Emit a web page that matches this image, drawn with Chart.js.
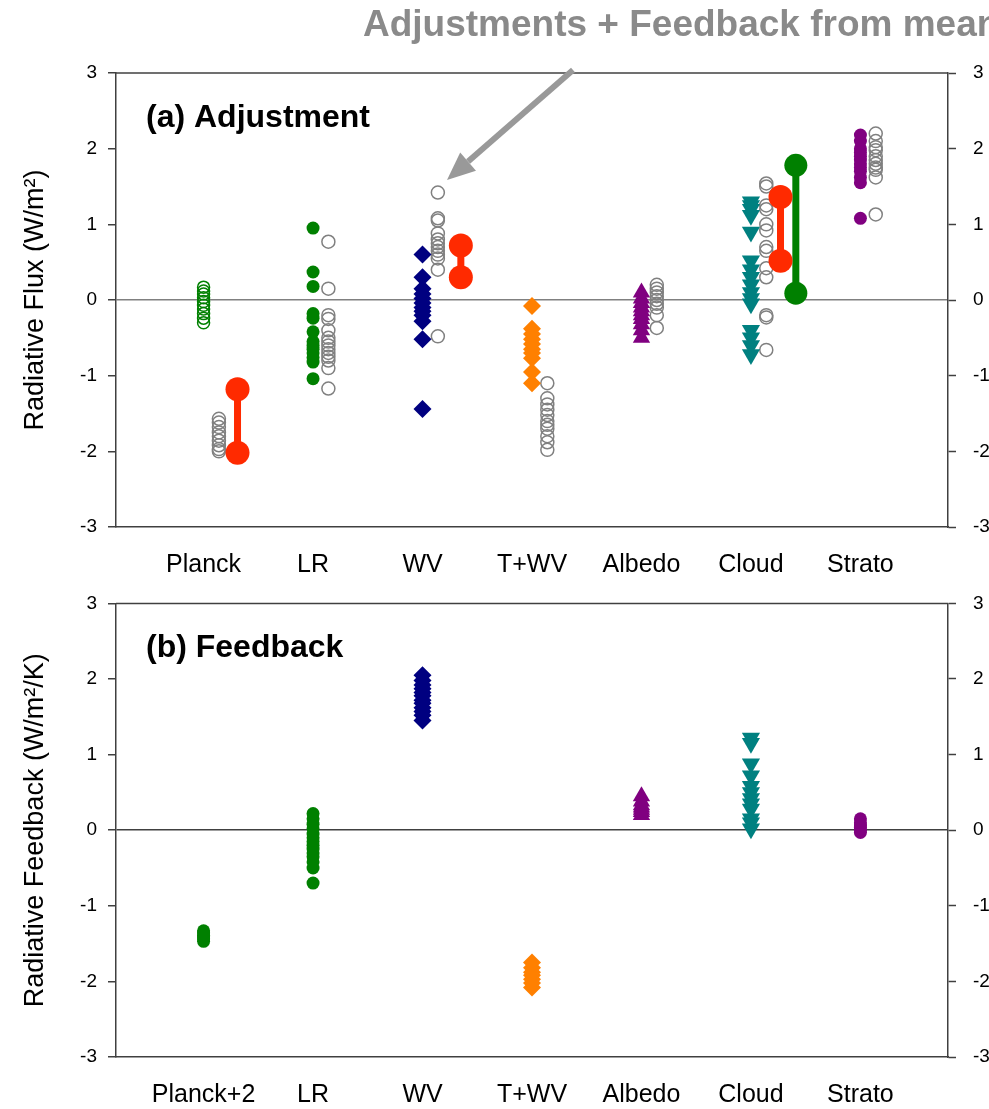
<!DOCTYPE html>
<html>
<head>
<meta charset="utf-8">
<script src="https://cdn.jsdelivr.net/npm/chart.js@4.4.0/dist/chart.umd.min.js"></script>
<style>
  body { margin: 0; background: #fff; }
  #chartA { position: absolute; left: 0; top: 0; }
  #chartB { position: absolute; left: 0; top: 575px; }
</style>
</head>
<body>
<canvas id="chartA" width="989" height="585"></canvas>
<canvas id="chartB" width="989" height="534"></canvas>
<script>
// categories on the x axis
let catsA = ["Planck", "LR", "WV", "T+WV", "Albedo", "Cloud", "Strato"];
let catsB = ["Planck+2", "LR", "WV", "T+WV", "Albedo", "Cloud", "Strato"];
let yTicks = [-3, -2, -1, 0, 1, 2, 3];

// (a) adjustments of each model
let adjPlanck = [0.17, 0.12, 0.08, 0.03, -0.02, -0.07, -0.12, -0.18, -0.24, -0.3];
let adjLR = [0.95, 0.37, 0.18, -0.18, -0.24, -0.42, -0.55, -0.6, -0.65, -0.7, -0.76, -0.82, -1.04];
let adjWV = [0.6, 0.3, 0.15, 0.08, 0.02, -0.04, -0.1, -0.15, -0.2, -0.28, -0.52, -1.44];
let adjTWV = [-0.08, -0.38, -0.45, -0.52, -0.58, -0.65, -0.7, -0.77, -0.95, -1.1];
let adjAlbedo = [0.1, 0.02, -0.04, -0.1, -0.15, -0.2, -0.25, -0.32, -0.4, -0.5];
let adjCloud = [1.3, 1.25, 1.2, 1.12, 0.9, 0.52, 0.4, 0.3, 0.2, 0.1, 0.02, -0.05, -0.4, -0.5, -0.6, -0.72];
let adjStrato = [2.18, 2.1, 2.0, 1.95, 1.9, 1.85, 1.8, 1.75, 1.7, 1.62, 1.55, 1.08];

// (a) grey open circles: adjustments + feedback from mean
let meanPlanck = [-1.57, -1.62, -1.68, -1.75, -1.8, -1.86, -1.92, -1.97, -2.0];
let meanLR = [0.77, 0.15, -0.2, -0.25, -0.4, -0.5, -0.55, -0.6, -0.65, -0.7, -0.75, -0.8, -0.9, -1.17];
let meanWV = [1.42, 1.08, 1.05, 0.88, 0.8, 0.75, 0.7, 0.65, 0.6, 0.55, 0.4, -0.48];
let meanTWV = [-1.1, -1.3, -1.38, -1.45, -1.52, -1.6, -1.65, -1.7, -1.8, -1.88, -1.98];
let meanAlbedo = [0.2, 0.15, 0.1, 0.05, 0.0, -0.05, -0.1, -0.2, -0.37];
let meanCloud = [1.54, 1.5, 1.25, 1.2, 1.0, 0.92, 0.7, 0.65, 0.42, 0.3, -0.2, -0.23, -0.66];
let meanStrato = [2.2, 2.1, 2.02, 1.98, 1.9, 1.85, 1.8, 1.75, 1.72, 1.62, 1.13];

// (a) red and green ranges (top, bottom)
let redPlanck = [-1.18, -2.02];
let redWV = [0.72, 0.3];
let redCloud = [1.36, 0.52];
let greenCloud = [1.78, 0.09];

// (b) feedbacks
let fbPlanck = [-1.33, -1.36, -1.39, -1.41, -1.44, -1.47];
let fbLR = [0.22, 0.15, 0.08, 0.02, -0.05, -0.1, -0.15, -0.2, -0.25, -0.3, -0.35, -0.42, -0.5, -0.7];
let fbWV = [2.05, 1.98, 1.92, 1.87, 1.82, 1.78, 1.72, 1.68, 1.62, 1.57, 1.52, 1.45];
let fbTWV = [-1.75, -1.82, -1.88, -1.92, -1.97, -2.02, -2.08];
let fbAlbedo = [0.45, 0.38, 0.33, 0.3, 0.27, 0.24, 0.2];
let fbCloud = [1.22, 1.15, 0.88, 0.72, 0.58, 0.5, 0.42, 0.35, 0.28, 0.15, 0.1, 0.02];
let fbStrato = [0.15, 0.1, 0.07, 0.04, 0.0, -0.03];

Chart.defaults.font.family = "'Liberation Sans', Arial, sans-serif";
Chart.defaults.color = '#000';

const GREEN = '#008000', GREY = '#808080', NAVY = '#000080', ORANGE = '#ff8000';
const PURPLE = '#800080', TEAL = '#008080', RED = '#ff2a00';

// turn a list of values into points at category i (+ a small shift)
function pts(i, arr, shift) {
  return arr.map(v => ({ x: i + (shift || 0), y: v }));
}

function filled(data, color, style, r, rot) {
  return {
    data: data, pointStyle: style, pointRadius: r, pointRotation: rot || 0,
    backgroundColor: color, borderColor: color, borderWidth: 0, order: 1
  };
}

function open(data, color, r) {
  return {
    data: data, pointStyle: 'circle', pointRadius: r,
    backgroundColor: 'rgba(255,255,255,0)', borderColor: color, borderWidth: 1.5, order: 2
  };
}

function range(i, shift, arr, color, r) {
  return {
    type: 'line', showLine: true, data: pts(i, arr, shift),
    borderColor: color, backgroundColor: color, borderWidth: 7,
    pointRadius: r, pointBorderWidth: 0, order: 0
  };
}

// axes shared by both panels
function makeScales(cats, xHeight, yTitle, zeroColor) {
  return {
    x: {
      type: 'linear', min: 0.2, max: 7.8,
      afterFit: s => { s.height = xHeight; },
      afterBuildTicks: s => { s.ticks = cats.map((c, k) => ({ value: k + 1 })); },
      ticks: {
        callback: v => cats[v - 1], font: { size: 25 }, padding: 23, maxRotation: 0, autoSkip: false
      },
      grid: { display: false, drawTicks: false },
      border: { color: '#404040', width: 1.5 }
    },
    y: {
      position: 'left', min: -3, max: 3,
      afterFit: s => { s.width = 116; },
      afterBuildTicks: s => { s.ticks = yTicks.map(v => ({ value: v })); },
      ticks: { font: { size: 19 }, padding: 11 },
      grid: {
        color: c => (c.tick && c.tick.value === 0) ? zeroColor : 'rgba(0,0,0,0)',
        lineWidth: 1.5, tickColor: '#404040', tickLength: 8, tickWidth: 1.5
      },
      border: { color: '#404040', width: 1.5 },
      title: { display: true, text: yTitle, font: { size: 27 }, padding: { top: 19, bottom: 0 } }
    },
    y2: {
      position: 'right', min: -3, max: 3,
      afterFit: s => { s.width = 41; },
      afterBuildTicks: s => { s.ticks = yTicks.map(v => ({ value: v })); },
      ticks: { font: { size: 19 }, padding: 17 },
      grid: { drawOnChartArea: false, tickColor: '#404040', tickLength: 8, tickWidth: 1.5 },
      border: { color: '#404040', width: 1.5 }
    }
  };
}

// top frame line + panel label (+ headline and arrow for panel a)
function decor(label, extra) {
  return {
    id: 'decor',
    afterDraw(chart) {
      const ctx = chart.ctx, a = chart.chartArea;
      ctx.save();
      ctx.strokeStyle = '#404040';
      ctx.lineWidth = 1.5;
      ctx.beginPath();
      ctx.moveTo(a.left, a.top);
      ctx.lineTo(a.right, a.top);
      ctx.stroke();
      ctx.fillStyle = '#000';
      ctx.font = "bold 32px 'Liberation Sans', Arial, sans-serif";
      ctx.textBaseline = 'middle';
      ctx.fillText(label, 146, a.top + 45);
      if (extra) extra(ctx);
      ctx.restore();
    }
  };
}

function headline(ctx) {
  ctx.fillStyle = '#8a8a8a';
  ctx.font = "bold 37px 'Liberation Sans', Arial, sans-serif";
  ctx.textBaseline = 'middle';
  ctx.fillText('Adjustments + Feedback from mean', 363, 26);
  // arrow pointing to the grey circles
  const x0 = 573, y0 = 70, x1 = 447, y1 = 180;
  const len = Math.hypot(x1 - x0, y1 - y0);
  const ux = (x1 - x0) / len, uy = (y1 - y0) / len;
  const head = 28, half = 12;
  const bx = x1 - ux * head, by = y1 - uy * head;
  ctx.strokeStyle = '#999';
  ctx.fillStyle = '#999';
  ctx.lineWidth = 6;
  ctx.beginPath();
  ctx.moveTo(x0, y0);
  ctx.lineTo(bx, by);
  ctx.stroke();
  ctx.beginPath();
  ctx.moveTo(x1, y1);
  ctx.lineTo(bx - uy * half, by + ux * half);
  ctx.lineTo(bx + uy * half, by - ux * half);
  ctx.closePath();
  ctx.fill();
}

const G = 0.14; // shift of grey circles

let chartA = new Chart(document.getElementById('chartA').getContext('2d'), {
  type: 'scatter',
  data: {
    datasets: [
      open(pts(1, adjPlanck), GREEN, 6),
      filled(pts(2, adjLR), GREEN, 'circle', 6.5),
      filled(pts(3, adjWV), NAVY, 'rectRot', 9),
      filled(pts(4, adjTWV), ORANGE, 'rectRot', 9),
      filled(pts(5, adjAlbedo), PURPLE, 'triangle', 10),
      filled(pts(6, adjCloud), TEAL, 'triangle', 10.5, 180),
      filled(pts(7, adjStrato), PURPLE, 'circle', 6.5),
      open(pts(1, meanPlanck, G), GREY, 6.5),
      open(pts(2, meanLR, G), GREY, 6.5),
      open(pts(3, meanWV, G), GREY, 6.5),
      open(pts(4, meanTWV, G), GREY, 6.5),
      open(pts(5, meanAlbedo, G), GREY, 6.5),
      open(pts(6, meanCloud, G), GREY, 6.5),
      open(pts(7, meanStrato, G), GREY, 6.5),
      range(1, 0.31, redPlanck, RED, 12),
      range(3, 0.35, redWV, RED, 12),
      range(6, 0.27, redCloud, RED, 12),
      range(6, 0.41, greenCloud, GREEN, 11.5)
    ]
  },
  options: {
    responsive: false,
    animation: false,
    layout: { padding: { top: 73, left: 0, right: 0, bottom: 0 } },
    plugins: { legend: { display: false }, tooltip: { enabled: false } },
    scales: makeScales(catsA, 58, 'Radiative Flux (W/m²)', '#808080')
  },
  plugins: [decor('(a) Adjustment', headline)]
});

let chartB = new Chart(document.getElementById('chartB').getContext('2d'), {
  type: 'scatter',
  data: {
    datasets: [
      filled(pts(1, fbPlanck), GREEN, 'circle', 6.5),
      filled(pts(2, fbLR), GREEN, 'circle', 6.5),
      filled(pts(3, fbWV), NAVY, 'rectRot', 9),
      filled(pts(4, fbTWV), ORANGE, 'rectRot', 9),
      filled(pts(5, fbAlbedo), PURPLE, 'triangle', 10),
      filled(pts(6, fbCloud), TEAL, 'triangle', 10.5, 180),
      filled(pts(7, fbStrato), PURPLE, 'circle', 6.5)
    ]
  },
  options: {
    responsive: false,
    animation: false,
    layout: { padding: { top: 0, left: 0, right: 0, bottom: 0 } },
    plugins: { legend: { display: false }, tooltip: { enabled: false } },
    scales: makeScales(catsB, 52, 'Radiative Feedback (W/m²/K)', '#404040')
  },
  plugins: [decor('(b) Feedback')]
});
</script>
</body>
</html>
